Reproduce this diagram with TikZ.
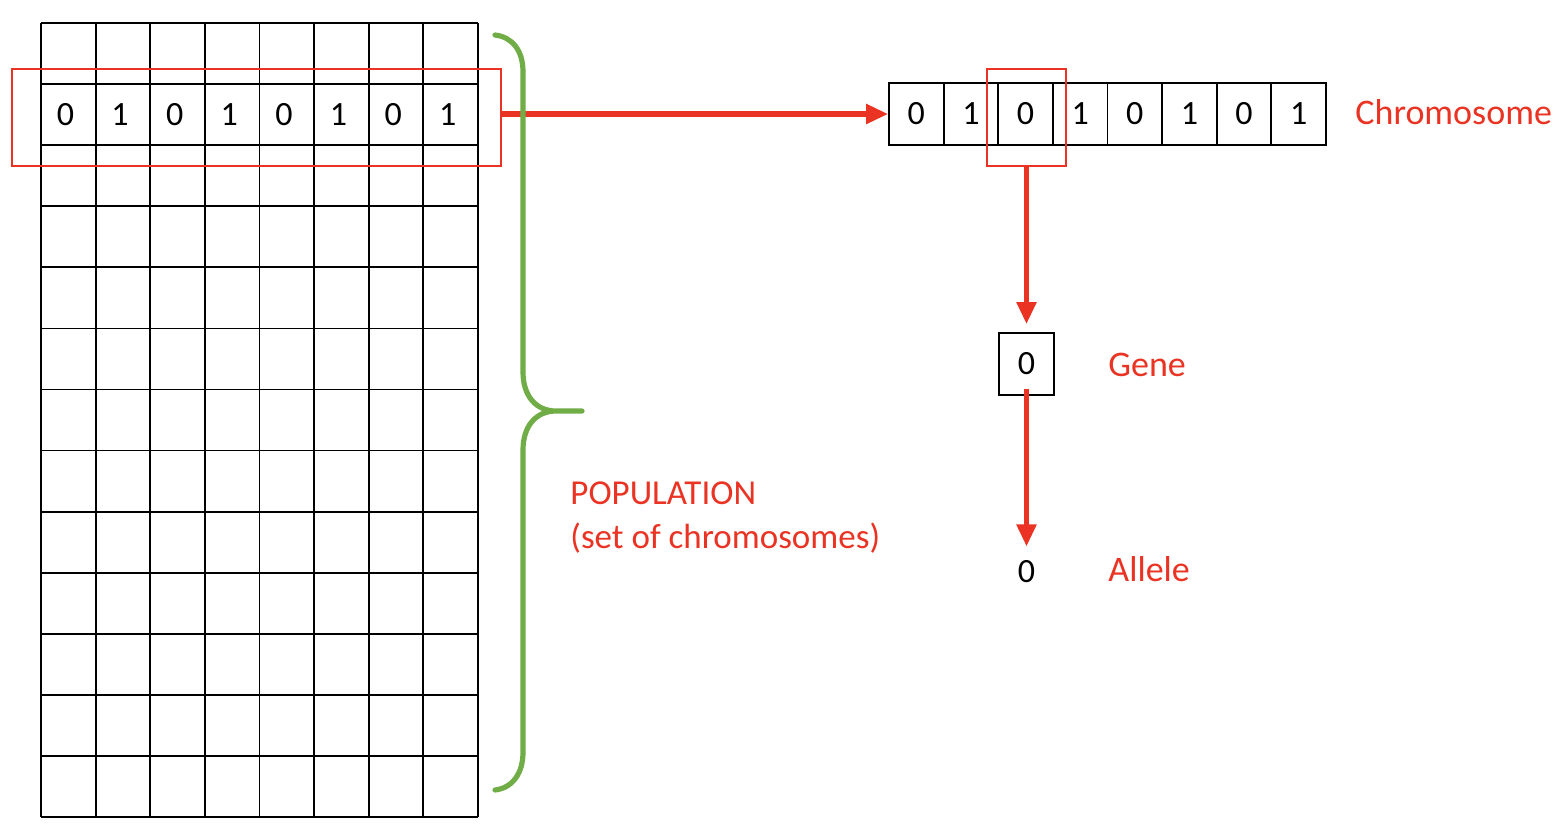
\documentclass[tikz,border=0pt]{standalone}
\usepackage{fontspec}
\setmainfont{Carlito}
\usetikzlibrary{arrows.meta}
\definecolor{rouge}{RGB}{234,51,35}
\definecolor{vert}{RGB}{112,173,71}
\newcommand{\gros}[1]{\fontsize{#1}{#1}\selectfont}

\begin{document}
\begin{tikzpicture}[x=0.5pt,y=-0.5pt,
	trait/.style={line width=0.9pt},
	cellule/.style={draw, trait, minimum width=27.3pt, minimum height=31pt, inner sep=0pt, font=\gros{17}},
	chiffre/.style={inner sep=0pt, font=\gros{17}},
	cadre/.style={draw=rouge, line width=0.7pt, inner sep=0pt},
	fleche/.style={rouge, line width=2.6pt, -{Triangle[length=11pt,width=9.5pt]}},
	etiq/.style={rouge, anchor=west, inner sep=0pt, font=\gros{18}}]
\useasboundingbox (0,0) rectangle (1566,836);
%Population grid
	\foreach \i in {0,...,8}
		\draw[trait] ({41+54.625*\i},23) -- ({41+54.625*\i},817);
	\foreach \j in {0,...,13}
		\draw[trait] (41,{23+61.08*\j}) -- (478,{23+61.08*\j});
	\foreach \b [count=\i] in {0,1,0,1,0,1,0,1}
		\node[chiffre] (g\i) at ({10.8+54.625*\i},115) {\b};
	\node[cadre, minimum width=244.5pt, minimum height=48.5pt] (row) at (256.5,117.5) {};
%The chromosome
	\foreach \b [count=\i] in {0,1,0,1,0,1,0,1}
		\node[cellule] (ch\i) at ({861.7+54.625*\i},114) {\b};
	\node[cadre, minimum width=39.5pt, minimum height=48.5pt] (pick) at (1026.5,117.5) {};
	\node[etiq] (chromlab) at (1355,112) {Chromosome};
%Gene and allele
	\node[cellule, minimum width=27.5pt] (gene) at (1026.5,364) {0};
	\node[etiq] (genelab) at (1108,365) {Gene};
	\node[chiffre] (allele) at (1026.5,572) {0};
	\node[etiq] (allelelab) at (1108,569) {Allele};
%Arrows
	\draw[fleche] (row.east |- ch1.west) -- (ch1.west);
	\draw[fleche, shorten >=4pt] (pick.south) -- (gene.north);
	\draw[fleche, shorten >=7pt] ([yshift=3.5pt]gene.south) -- (allele.north);
%Brace
	\draw[vert, line width=2.6pt, line cap=round]
		(495,35) .. controls (512,37) and (523,50) .. (523,72) -- (523,372)
		.. controls (523,396) and (536,411) .. (556,411) -- (582,411)
		(556,411) .. controls (536,411) and (523,426) .. (523,450) -- (523,752)
		.. controls (523,774) and (512,788) .. (495,790);
	\node[rouge, anchor=west, align=left, inner sep=0pt, font=\fontsize{17.5}{22}\selectfont] (poplab) at (570,518)
		{POPULATION\\(set of chromosomes)};
\end{tikzpicture}
\end{document}
